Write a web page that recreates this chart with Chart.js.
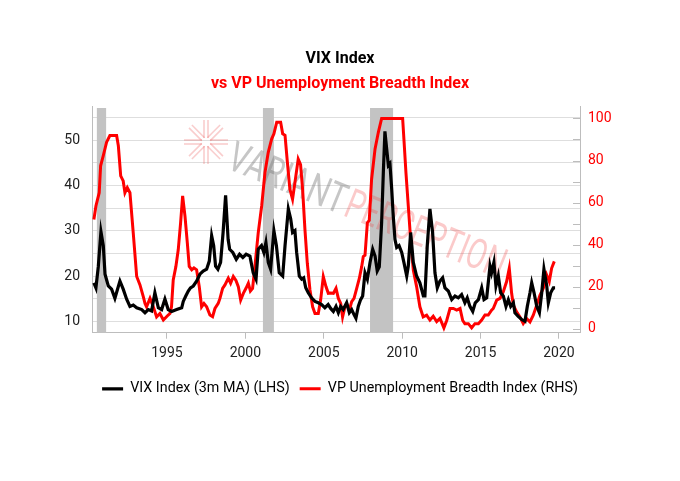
<!DOCTYPE html>
<html>
<head>
<meta charset="utf-8">
<script src="https://cdn.jsdelivr.net/npm/chart.js@4.4.1/dist/chart.umd.min.js"></script>
<style>
  html, body { margin: 0; padding: 0; background: #fff; }
  #wrap { width: 680px; height: 481px; }
</style>
</head>
<body>
<div id="wrap"><canvas id="myChart" width="680" height="481"></canvas></div>
<script>
// VIX Index, 3m moving average (left axis)
const vixDates = [
  1990.34,1990.47,1990.62,1990.79,1990.94,1991.05,1991.26,1991.47,1991.68,1992.0,
  1992.21,1992.43,1992.64,1992.85,1993.07,1993.39,1993.6,1993.81,1994.02,1994.23,
  1994.45,1994.66,1994.87,1995.08,1995.3,1995.62,1995.94,1996.04,1996.2,1996.36,
  1996.5,1996.68,1996.9,1997.1,1997.31,1997.53,1997.7,1997.85,1997.98,1998.1,
  1998.25,1998.42,1998.58,1998.74,1998.9,1999.0,1999.2,1999.42,1999.63,1999.84,
  2000.05,2000.29,2000.5,2000.68,2000.82,2001.03,2001.18,2001.31,2001.46,2001.61,
  2001.82,2001.98,2002.16,2002.38,2002.53,2002.74,2002.89,2003.01,2003.16,2003.27,
  2003.44,2003.59,2003.72,2003.85,2004.01,2004.22,2004.44,2004.65,2004.86,2005.07,
  2005.28,2005.45,2005.61,2005.78,2005.93,2006.08,2006.24,2006.46,2006.63,2006.78,
  2006.93,2007.05,2007.2,2007.35,2007.48,2007.63,2007.78,2007.95,2008.12,2008.27,
  2008.41,2008.54,2008.69,2008.8,2008.9,2009.01,2009.12,2009.22,2009.33,2009.43,
  2009.54,2009.65,2009.8,2009.97,2010.11,2010.29,2010.39,2010.54,2010.71,2010.92,
  2011.13,2011.35,2011.45,2011.6,2011.77,2011.94,2012.09,2012.24,2012.41,2012.58,
  2012.73,2012.94,2013.16,2013.37,2013.58,2013.79,2014.0,2014.15,2014.32,2014.5,
  2014.66,2014.86,2015.07,2015.22,2015.39,2015.6,2015.7,2015.85,2015.98,2016.13,
  2016.28,2016.45,2016.62,2016.77,2016.92,2017.09,2017.19,2017.4,2017.62,2017.83,
  2017.98,2018.15,2018.26,2018.41,2018.58,2018.75,2018.9,2019.04,2019.22,2019.32,
  2019.47,2019.64,2019.75
];
const vixValues = [
  18.5,17.4,22,29.8,26.7,20.4,17.8,17.1,15.1,18.9,
  17.1,14.9,13.3,13.6,13.0,12.6,11.9,12.6,12.3,16.3,
  13.0,12.6,14.9,12.6,12.2,12.6,13.0,14.4,15.6,16.7,
  17.4,17.8,18.9,20.4,21.1,21.5,23.3,28.9,26.7,22.2,
  21.5,23.0,29.6,37.8,28.1,25.9,25.2,23.7,24.8,24.1,
  24.8,24.4,20.7,19.3,25.9,26.7,25.2,27.4,23.0,21.5,
  30.0,26.7,20.7,20.0,26.7,34.8,32.6,29.6,30.0,25.2,
  20.0,19.3,19.6,17.4,16.3,15.2,14.4,14.1,13.7,13.0,
  13.7,12.8,12.2,13.3,11.9,13.3,12.6,14.1,11.9,12.6,
  11.5,10.7,13.3,14.8,15.6,20.7,19.3,23.0,25.9,24.4,
  21.1,22.0,31.8,43.0,51.9,48.1,44.4,44.8,39.3,33.3,
  28.1,26.3,26.7,25.2,23.0,20.0,22.2,29.6,23.0,20.0,
  18.5,15.6,15.6,26.7,34.8,29.6,20.7,17.4,18.9,19.6,
  17.4,16.7,14.8,15.6,15.2,15.9,14.1,15.2,13.3,12.2,
  14.1,14.8,17.4,14.8,15.2,22.2,20.7,23.0,17.8,20.0,
  16.3,15.6,13.3,14.8,13.3,14.1,11.9,11.1,10.4,10.0,
  13.3,16.3,18.5,16.3,13.3,11.9,16.3,21.5,17.8,14.1,
  16.3,17.4,17.4
];

// VP Unemployment Breadth Index (right axis)
const vpDates = [
  1990.34,1990.47,1990.68,1990.77,1990.94,1991.15,1991.36,1991.79,1991.9,1992.05,
  1992.21,1992.32,1992.47,1992.64,1992.85,1993.07,1993.28,1993.49,1993.6,1993.7,
  1993.92,1994.13,1994.34,1994.55,1994.77,1995.08,1995.19,1995.29,1995.4,1995.57,
  1995.72,1995.87,1996.0,1996.15,1996.3,1996.42,1996.58,1996.72,1996.89,1997.06,
  1997.21,1997.36,1997.53,1997.74,1997.91,1998.06,1998.27,1998.38,1998.55,1998.7,
  1998.91,1999.06,1999.23,1999.4,1999.55,1999.7,1999.87,2000.04,2000.19,2000.32,
  2000.46,2000.61,2000.82,2001.04,2001.25,2001.46,2001.68,2001.82,2002.0,2002.25,
  2002.38,2002.53,2002.68,2002.84,2003.01,2003.16,2003.37,2003.52,2003.65,2003.8,
  2003.95,2004.12,2004.29,2004.44,2004.65,2004.8,2004.97,2005.14,2005.29,2005.44,
  2005.61,2005.78,2005.93,2006.08,2006.2,2006.35,2006.46,2006.63,2006.78,2006.93,
  2007.1,2007.27,2007.42,2007.52,2007.63,2007.78,2007.9,2008.05,2008.27,2008.48,
  2008.69,2010.03,2010.11,2010.24,2010.39,2010.54,2010.71,2010.92,2011.13,2011.34,
  2011.56,2011.77,2011.98,2012.2,2012.41,2012.66,2012.84,2013.05,2013.26,2013.48,
  2013.69,2013.86,2014.0,2014.22,2014.43,2014.64,2014.86,2015.07,2015.28,2015.49,
  2015.7,2015.81,2016.03,2016.24,2016.45,2016.66,2016.83,2016.98,2017.09,2017.3,
  2017.51,2017.72,2017.94,2018.15,2018.36,2018.58,2018.79,2019.0,2019.21,2019.38,
  2019.53,2019.7
];
const vpValues = [
  52,58.4,64.7,77.5,82.3,88.7,91.9,91.9,87,72.7,
  70.3,64.7,67.1,64.7,45.6,24.9,20.9,15.3,12.1,10.5,
  14.5,10.5,5.7,7.3,4.2,6.6,7.3,10.5,23.3,29.7,
  37.6,50.4,63.2,53.6,40.8,29.7,28.1,29,28.1,20.1,
  10.5,12.1,10.5,6.6,5.8,9.7,12.1,14.5,19.3,20.9,
  24.1,21.7,24.9,23,20.1,13.7,16.9,19.3,21.7,18,
  19.3,29.7,45.6,58.4,74.3,83.9,90.3,92.7,98.2,98.2,
  92.7,92,79.1,66.4,61.6,69.5,80.7,78,66.4,47.2,
  31.2,18.5,10.5,7.3,7.3,13.7,24.9,20.1,16.9,17,
  16.9,19.3,14.5,12.1,5.7,10.5,12,8.9,13,14.5,
  19.3,24.1,29.7,34.4,35,50.4,51.5,71.1,85.5,93.4,
  100,100,90.3,74.3,58.4,42.4,28,20.1,10.5,5.7,
  6.5,4.2,6,3.5,5,0.5,4,9.7,9.7,8.9,
  9.7,4,2.5,2.5,0.5,2.5,2.5,4.2,6.6,6.6,
  8.9,9.7,13.7,14.5,17.7,22.5,28.8,16.9,11.3,8.1,
  5.7,2.5,4.9,3.3,6.5,11.3,16.1,19.3,25.7,22.5,
  28.8,32.1
];

// US recessions (shaded)
const recessionStarts = [1990.53, 2001.12, 2007.95];
const recessionEnds = [1991.12, 2001.82, 2009.42];

// axis ticks
const xTicks = [1995, 2000, 2005, 2010, 2015, 2020];
const leftTicks = [10, 15, 20, 25, 30, 35, 40, 45, 50, 55];
const rightTicks = [0, 10, 20, 30, 40, 50, 60, 70, 80, 90, 100];

const seriesNames = ['VIX Index (3m MA) (LHS)', 'VP Unemployment Breadth Index (RHS)'];
const seriesColors = ['#000000', '#ff0000'];

const FONT = 'Roboto';

const toPoints = (xs, ys) => xs.map((x, i) => ({x: x, y: ys[i]}));
const setTicks = list => scale => { scale.ticks = list.map(v => ({value: v})); };

// grey recession bars + faint watermark, under the lines
const backdropPlugin = {
    id: 'backdrop',
    beforeDatasetsDraw(chart) {
        const {ctx, chartArea, scales} = chart;
        const x = scales.x;
        ctx.save();
        ctx.fillStyle = '#c3c3c3';
        for (let i = 0; i < recessionStarts.length; i++) {
            const x0 = x.getPixelForValue(recessionStarts[i]);
            const x1 = x.getPixelForValue(recessionEnds[i]);
            ctx.fillRect(x0, chartArea.top + 2, x1 - x0, chartArea.bottom - chartArea.top - 2);
        }

        // logo
        ctx.strokeStyle = 'rgba(235, 90, 90, 0.3)';
        ctx.lineWidth = 1.6;
        ctx.translate(206, 142);
        for (let k = 0; k < 8; k++) {
            const a = k * Math.PI / 4;
            const c = Math.cos(a), s = Math.sin(a);
            for (const off of [-2, 2]) {
                ctx.beginPath();
                ctx.moveTo(4 * c - off * s, 4 * s + off * c);
                ctx.lineTo(22 * c - off * s, 22 * s + off * c);
                ctx.stroke();
            }
        }
        ctx.setTransform(1, 0, 0, 1, 0, 0);

        // text
        ctx.translate(229, 158);
        ctx.rotate(22 * Math.PI / 180);
        ctx.font = '400 42px ' + FONT;
        ctx.textBaseline = 'middle';
        ctx.textAlign = 'left';
        ctx.fillStyle = 'rgba(120, 120, 120, 0.42)';
        ctx.fillText('VARIANT', 0, 0, 124);
        ctx.fillStyle = 'rgba(240, 60, 60, 0.27)';
        ctx.fillText('PERCEPTION', 126, 0, 170);
        ctx.restore();
    },
    afterDraw(chart) {
        // small inward ticks on the right axis
        const {ctx, scales} = chart;
        const yR = scales.yRight;
        ctx.save();
        ctx.strokeStyle = '#bdbdbd';
        ctx.lineWidth = 1;
        rightTicks.forEach(v => {
            const y = Math.round(yR.getPixelForValue(v)) + 0.5;
            ctx.beginPath();
            ctx.moveTo(yR.left - 7, y);
            ctx.lineTo(yR.left, y);
            ctx.stroke();
        });
        ctx.restore();
    }
};

const ctx = document.getElementById('myChart').getContext('2d');
new Chart(ctx, {
    type: 'line',
    data: {
        datasets: [
            {
                label: seriesNames[0],
                data: toPoints(vixDates, vixValues),
                borderColor: seriesColors[0],
                backgroundColor: seriesColors[0],
                borderWidth: 3.2,
                pointRadius: 0,
                tension: 0,
                yAxisID: 'yLeft'
            },
            {
                label: seriesNames[1],
                data: toPoints(vpDates, vpValues),
                borderColor: seriesColors[1],
                backgroundColor: seriesColors[1],
                borderWidth: 3,
                pointRadius: 0,
                tension: 0,
                yAxisID: 'yRight'
            }
        ]
    },
    options: {
        responsive: false,
        animation: false,
        devicePixelRatio: 1,
        layout: {padding: {left: 0, right: 0, top: 0, bottom: 75}},
        plugins: {
            title: {
                display: true,
                text: 'VIX Index',
                color: '#000',
                font: {family: FONT, size: 16, weight: 'bold'},
                padding: {top: 49, bottom: 0}
            },
            subtitle: {
                display: true,
                text: 'vs VP Unemployment Breadth Index',
                color: '#ff0000',
                font: {family: FONT, size: 16, weight: 'bold'},
                padding: {top: 6, bottom: 12.6}
            },
            legend: {
                position: 'bottom',
                labels: {
                    usePointStyle: true,
                    pointStyle: 'line',
                    pointStyleWidth: 21,
                    color: '#000',
                    padding: 10,
                    font: {family: FONT, size: 14.3}
                }
            },
            tooltip: {enabled: false}
        },
        scales: {
            x: {
                type: 'linear',
                min: 1990.22,
                max: 2021.34,
                border: {color: '#bdbdbd'},
                grid: {drawOnChartArea: false, drawTicks: true, tickLength: 6, color: '#bdbdbd'},
                ticks: {
                    padding: 6,
                    color: '#222',
                    font: {family: FONT, size: 14},
                    callback: v => String(v)
                },
                afterBuildTicks: setTicks(xTicks),
                afterFit: s => { s.height = 39; }
            },
            yLeft: {
                position: 'left',
                min: 7.5,
                max: 57.5,
                border: {color: '#bdbdbd'},
                grid: {drawTicks: false, color: '#dedede'},
                ticks: {
                    padding: 12,
                    color: '#222',
                    font: {family: FONT, size: 14},
                    callback: v => (v % 10 === 0 ? String(v) : '')
                },
                afterBuildTicks: setTicks(leftTicks),
                afterFit: s => { s.width = 92; }
            },
            yRight: {
                position: 'right',
                min: -1.8,
                max: 105.9,
                border: {color: '#bdbdbd'},
                grid: {drawOnChartArea: false, drawTicks: false},
                ticks: {
                    padding: 8,
                    color: '#ff0000',
                    font: {family: FONT, size: 14},
                    callback: v => (v % 20 === 0 ? String(v) : '')
                },
                afterBuildTicks: setTicks(rightTicks),
                afterFit: s => { s.width = 100; }
            }
        }
    },
    plugins: [backdropPlugin]
});
</script>
</body>
</html>
